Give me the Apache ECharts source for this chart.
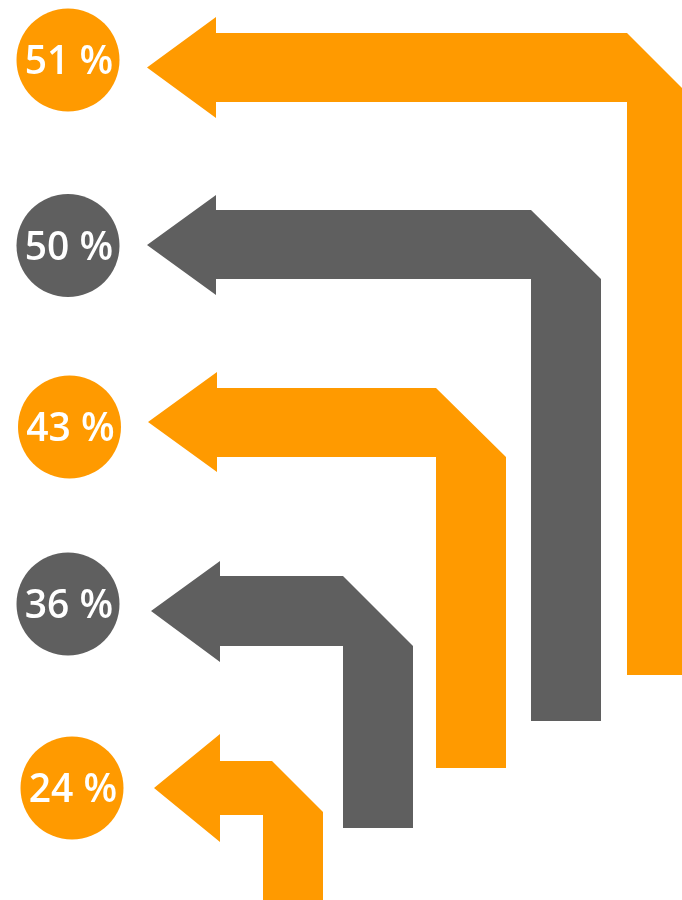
<!DOCTYPE html>
<html>
<head>
<meta charset="utf-8">
<style>
  html, body { margin: 0; padding: 0; background: #ffffff; }
  #chart { width: 682px; height: 900px; }
</style>
<script src="https://cdn.jsdelivr.net/npm/echarts@6/dist/echarts.min.js"></script>
</head>
<body>
<div id="chart"></div>
<script>
// Shares shown in the badges, top to bottom
const values = [51, 50, 43, 36, 24];
const labelSuffix = ' %';

// Palette alternates orange / dark grey from row to row
const palette = ['#FF9A00', '#5F5F5F'];

// Layout of each row in a 682 x 900 unit frame (y grows downward)
const badgeX     = [68, 68, 69.5, 68, 72];
const badgeY     = [60, 245.5, 427, 604, 788];
const tipX       = [147, 147, 148, 151, 154];
const headBaseX  = [216, 216, 217, 220, 220];
const headTop    = [17, 195, 372, 561, 734];
const headBottom = [118, 295, 472, 662, 842];
const tipY       = [67.5, 245, 422, 611, 788];
const shaftTop   = [33, 210, 388, 576, 761];
const shaftBot   = [102, 279, 457, 646, 815];
const bendOuterX = [627, 531, 436, 343, 272];
const bendInnerX = [627, 531, 436, 343, 263];
const stemRightX = [697, 601, 506, 413, 323];
const bevelEndY  = [103, 279, 457, 646, 812];
const stemBottom = [675, 721, 768, 828, 900];

const rows = values.map((v, i) => [i, v]);

const chart = echarts.init(document.getElementById('chart'), null, { renderer: 'canvas' });

chart.setOption({
  animation: false,
  backgroundColor: '#ffffff',
  grid: { left: 0, right: 0, top: 0, bottom: 0 },
  xAxis: { type: 'value', min: 0, max: 682, show: false },
  yAxis: { type: 'value', min: 0, max: 900, inverse: true, show: false },
  series: [
    {
      // Bent arrows: shaft runs left into an arrow head, stem drops down from a bevelled corner
      type: 'custom',
      data: rows,
      clip: true,
      renderItem: function (params, api) {
        const i = api.value(0);
        const pts = [
          [tipX[i], tipY[i]],
          [headBaseX[i], headTop[i]],
          [headBaseX[i], shaftTop[i]],
          [bendOuterX[i], shaftTop[i]],
          [stemRightX[i], bevelEndY[i]],
          [stemRightX[i], stemBottom[i]],
          [bendInnerX[i], stemBottom[i]],
          [bendInnerX[i], shaftBot[i]],
          [headBaseX[i], shaftBot[i]],
          [headBaseX[i], headBottom[i]]
        ].map(p => api.coord(p));
        return {
          type: 'polygon',
          shape: { points: pts },
          style: { fill: palette[i % 2] }
        };
      }
    },
    {
      // Round badges carrying the percentage
      type: 'scatter',
      symbol: 'circle',
      symbolSize: 103,
      data: values.map((v, i) => ({
        value: [badgeX[i], badgeY[i], v],
        itemStyle: { color: palette[i % 2], opacity: 1 }
      })),
      itemStyle: { opacity: 1 },
      label: {
        show: true,
        position: 'inside',
        offset: [1, 3],
        formatter: p => p.value[2] + labelSuffix,
        color: '#ffffff',
        fontFamily: 'Open Sans',
        fontWeight: 600,
        fontSize: 39
      },
      emphasis: { disabled: true },
      z: 3
    }
  ]
});
</script>
</body>
</html>
